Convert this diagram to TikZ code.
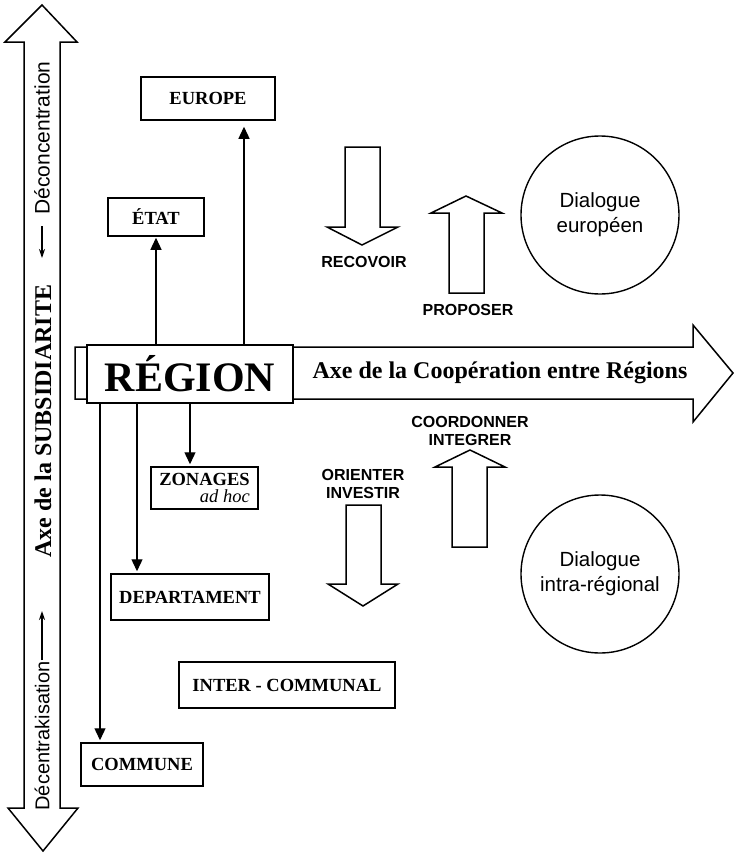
\documentclass[tikz,border=0pt]{standalone}
\usepackage{fontspec}
\setmainfont{Liberation Serif}
\setsansfont{Liberation Sans}
\usetikzlibrary{arrows.meta}
\begin{document}
\begin{tikzpicture}[x=1pt,y=-1pt,
  box/.style={draw, line width=1.5pt, fill=white, inner sep=0pt,
    font=\fontsize{18.5}{20}\selectfont\bfseries},
  conn/.style={line width=1.3pt, -{Triangle[length=12pt,width=11pt]}},
  block/.style={draw, line width=1.5pt, fill=white, line join=miter},
  verb/.style={font=\sffamily\bfseries\fontsize{16}{18}\selectfont, align=center, inner sep=0pt},
  dlg/.style={circle, draw, line width=1.4pt, minimum size=158pt, inner sep=0pt,
    align=center, font=\sffamily\fontsize{20.5}{25}\selectfont},
  small/.style={line width=1.2pt, -{Stealth[length=9pt,width=6pt]}}
]
\useasboundingbox (0,0) rectangle (735,855);

% vertical double arrow: axis of subsidiarity
\draw[block] (42,5) -- (77,42) -- (60,42) -- (60,808) -- (78,808) -- (43,851)
  -- (8,808) -- (24,808) -- (24,42) -- (5,42) -- cycle;
\node[rotate=90, font=\sffamily\fontsize{21}{24}\selectfont, inner sep=0pt]
  (deconc) at (42,138) {Déconcentration};
\node[rotate=90, font=\bfseries\fontsize{24}{26}\selectfont, inner sep=0pt]
  (subsid) at (43,421) {Axe de la SUBSIDIARITE};
\node[rotate=90, font=\sffamily\fontsize{20}{24}\selectfont, inner sep=0pt]
  (decent) at (42,736) {Décentrakisation};
\coordinate (dc-a) at (42,226);
\coordinate (dc-b) at (42,258);
\coordinate (de-a) at (42,660);
\coordinate (de-b) at (42,611);
\draw[small] (dc-a) -- (dc-b);
\draw[small] (de-a) -- (de-b);

% horizontal arrow: cooperation between regions
\draw[block] (75,347) -- (693,347) -- (693,325) -- (733,373) -- (693,422)
  -- (693,399) -- (75,399) -- cycle;
\node[font=\bfseries\fontsize{24}{26}\selectfont, inner sep=0pt]
  (coop) at (500,373) {Axe de la Coopération entre Régions};

% central box
\node[box, minimum width=206pt, minimum height=58pt,
  font=\bfseries\fontsize{42}{44}\selectfont] (region) at (190,374) {RÉGION};

% upper and lower tiers
\node[box, minimum width=134pt, minimum height=43pt] (europe) at (208,98.5) {EUROPE};
\node[box, minimum width=96pt, minimum height=38pt] (etat) at (156,217) {ÉTAT};
\node[box, minimum width=107pt, minimum height=42pt, align=right] (zonages) at (204.5,488)
  {ZONAGES\\[-3pt]{\mdseries\itshape ad hoc}};
\node[box, minimum width=158pt, minimum height=46pt] (dept) at (190,597) {DEPARTAMENT};
\node[box, minimum width=216pt, minimum height=46pt] (inter) at (287,685) {INTER - COMMUNAL};
\node[box, minimum width=122pt, minimum height=43pt] (commune) at (142,764.5) {COMMUNE};

% links from the region
\draw[conn, shorten >=1pt] (region.north -| etat.south) -- (etat.south);
\coordinate (eu-in) at ([xshift=36pt]europe.south);
\draw[conn, shorten >=6pt] (region.north -| eu-in) -- (eu-in);
\coordinate (zo-in) at ([xshift=-14.5pt]zonages.north);
\draw[conn, shorten >=2pt] (region.south -| zo-in) -- (zo-in);
\coordinate (de-in) at ([xshift=-53pt]dept.north);
\draw[conn, shorten >=2pt] (region.south -| de-in) -- (de-in);
\coordinate (co-in) at ([xshift=-42pt]commune.north);
\draw[conn, shorten >=2pt] (region.south -| co-in) -- (co-in);

% european dialogue
\draw[block] (345,147) -- (380,147) -- (380,227) -- (398,227) -- (362,245)
  -- (327,227) -- (345,227) -- cycle;
\node[verb] (recevoir) at (364,262) {RECOVOIR};
\draw[block] (449,293) -- (484,293) -- (484,213) -- (502,213) -- (466,196)
  -- (431,213) -- (449,213) -- cycle;
\node[verb] (proposer) at (468,310) {PROPOSER};
\node[dlg] (deu) at (600,215) {Dialogue\\européen};

% intra-regional dialogue
\node[verb] (coord) at (470,431) {COORDONNER\\INTEGRER};
\draw[block] (452,547) -- (487,547) -- (487,467) -- (505,467) -- (470,450)
  -- (435,467) -- (452,467) -- cycle;
\node[verb] (orient) at (363,484) {ORIENTER\\INVESTIR};
\draw[block] (346,505) -- (381,505) -- (381,584) -- (398,584) -- (363,606)
  -- (328,584) -- (346,584) -- cycle;
\node[dlg] (dir) at (600,574) {Dialogue\\intra-régional};
\end{tikzpicture}
\end{document}
